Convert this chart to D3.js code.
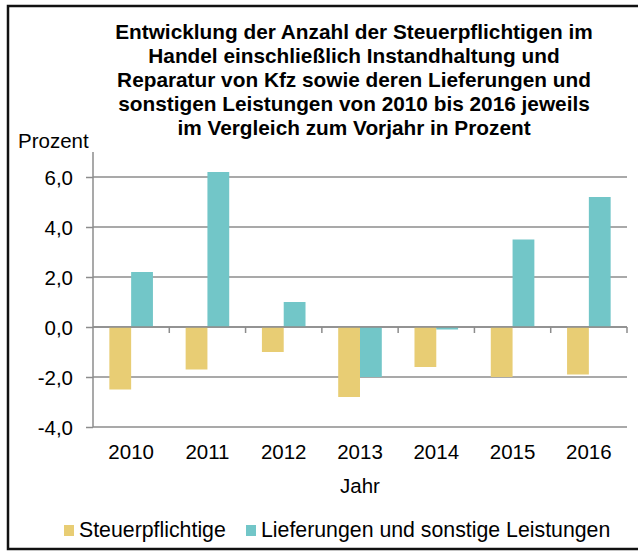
<!DOCTYPE html>
<html>
<head>
<meta charset="utf-8">
<script src="https://cdn.jsdelivr.net/npm/d3@7"></script>
<style>
  body { margin: 0; background: #fff; }
  svg { display: block; font-family: "Liberation Sans", Arial, sans-serif; }
</style>
</head>
<body>
<div id="chart"></div>
<script>
// data
var years = ['2010', '2011', '2012', '2013', '2014', '2015', '2016'];
var seriesNames = ['Steuerpflichtige', 'Lieferungen und sonstige Leistungen'];
var steuerpflichtige = [-2.5, -1.7, -1.0, -2.8, -1.6, -2.0, -1.9];
var lieferungen = [2.2, 6.2, 1.0, -2.0, -0.1, 3.5, 5.2];
var yTicks = [-4, -2, 0, 2, 4, 6];
var titleLines = [
  'Entwicklung der Anzahl der Steuerpflichtigen im',
  'Handel einschließlich Instandhaltung und',
  'Reparatur von Kfz sowie deren Lieferungen und',
  'sonstigen Leistungen von 2010 bis 2016 jeweils',
  'im Vergleich zum Vorjahr in Prozent'
];
var colors = ['#E8CD74', '#72C6C8'];

var width = 638, height = 551;

var svg = d3.select('#chart')
  .append('svg')
  .attr('width', width)
  .attr('height', height);

// frame
svg.append('rect')
  .attr('x', 8).attr('y', 6)
  .attr('width', 640).attr('height', 543)
  .attr('fill', 'none')
  .attr('stroke', '#111')
  .attr('stroke-width', 2.5);

// title
svg.append('g').selectAll('text')
  .data(titleLines)
  .enter()
  .append('text')
  .attr('x', 354)
  .attr('y', function(d, i) { return 38.5 + i * 24; })
  .attr('text-anchor', 'middle')
  .style('font-size', '20.8px')
  .style('font-weight', 'bold')
  .attr('fill', '#000')
  .text(function(d) { return d; });

var plotLeft = 93, plotRight = 627, plotTop = 152, plotBottom = 427;

var x0 = d3.scaleBand()
  .domain(years)
  .range([plotLeft, plotRight])
  .padding(0);

var x1 = d3.scaleBand()
  .domain(seriesNames)
  .range([0, x0.bandwidth()])
  .paddingInner(0)
  .paddingOuter(0.75);

var y = d3.scaleLinear()
  .domain([-4, 7])
  .range([plotBottom, plotTop]);

// gridlines
svg.append('g').selectAll('line')
  .data(yTicks)
  .enter()
  .append('line')
  .attr('x1', plotLeft).attr('x2', plotRight)
  .attr('y1', function(d) { return y(d); })
  .attr('y2', function(d) { return y(d); })
  .attr('stroke', '#8c8c8c')
  .attr('stroke-width', 1.5);

// bars
var rows = years.map(function(yr, i) {
  return { year: yr, values: [steuerpflichtige[i], lieferungen[i]] };
});

var groups = svg.append('g').selectAll('g')
  .data(rows)
  .enter()
  .append('g')
  .attr('transform', function(d) { return 'translate(' + x0(d.year) + ',0)'; });

groups.selectAll('rect')
  .data(function(d) {
    return d.values.map(function(v, k) { return { name: seriesNames[k], value: v, k: k }; });
  })
  .enter()
  .append('rect')
  .attr('x', function(d) { return x1(d.name); })
  .attr('width', x1.bandwidth())
  .attr('y', function(d) { return y(Math.max(0, d.value)); })
  .attr('height', function(d) { return Math.abs(y(d.value) - y(0)); })
  .attr('fill', function(d) { return colors[d.k]; });

// y axis
var yAxis = d3.axisLeft(y)
  .tickValues(yTicks)
  .tickSize(7)
  .tickFormat(function(d) { return d.toFixed(1).replace('.', ','); });

var gy = svg.append('g')
  .attr('transform', 'translate(' + plotLeft + ',0)')
  .call(yAxis);
gy.select('.domain').remove();
gy.selectAll('.tick line').attr('stroke', '#8c8c8c').attr('stroke-width', 1.5);
gy.selectAll('.tick text')
  .attr('x', -20)
  .attr('dy', '0.36em')
  .attr('fill', '#000')
  .style('font-size', '20.5px')
  .style('font-family', '"Liberation Sans", Arial, sans-serif');

svg.append('line')
  .attr('x1', plotLeft).attr('x2', plotLeft)
  .attr('y1', plotTop).attr('y2', plotBottom)
  .attr('stroke', '#8c8c8c')
  .attr('stroke-width', 1.5);

// x axis (zero line + ticks)
svg.append('line')
  .attr('x1', plotLeft).attr('x2', plotRight)
  .attr('y1', y(0)).attr('y2', y(0))
  .attr('stroke', '#8c8c8c')
  .attr('stroke-width', 1.5);

svg.append('g').selectAll('line')
  .data(years)
  .enter()
  .append('line')
  .attr('x1', function(d) { return x0(d) + x0.bandwidth(); })
  .attr('x2', function(d) { return x0(d) + x0.bandwidth(); })
  .attr('y1', y(0)).attr('y2', y(0) + 6)
  .attr('stroke', '#8c8c8c')
  .attr('stroke-width', 1.5);

svg.append('g').selectAll('text')
  .data(years)
  .enter()
  .append('text')
  .attr('x', function(d) { return x0(d) + x0.bandwidth() / 2; })
  .attr('y', 459)
  .attr('text-anchor', 'middle')
  .style('font-size', '20.5px')
  .attr('fill', '#000')
  .text(function(d) { return d; });

// axis titles
svg.append('text')
  .attr('x', 18).attr('y', 148)
  .style('font-size', '20.5px')
  .attr('fill', '#000')
  .text('Prozent');

svg.append('text')
  .attr('x', 360).attr('y', 493)
  .attr('text-anchor', 'middle')
  .style('font-size', '20.5px')
  .attr('fill', '#000')
  .text('Jahr');

// legend
var legendX = [64, 246];
var legend = svg.append('g').selectAll('g')
  .data(seriesNames)
  .enter()
  .append('g')
  .attr('transform', function(d, i) { return 'translate(' + legendX[i] + ',0)'; });

legend.append('rect')
  .attr('x', 0).attr('y', 525)
  .attr('width', 10).attr('height', 11)
  .attr('fill', function(d, i) { return colors[i]; });

legend.append('text')
  .attr('x', 15).attr('y', 537)
  .style('font-size', '21.3px')
  .attr('fill', '#000')
  .text(function(d) { return d; });
</script>
</body>
</html>
